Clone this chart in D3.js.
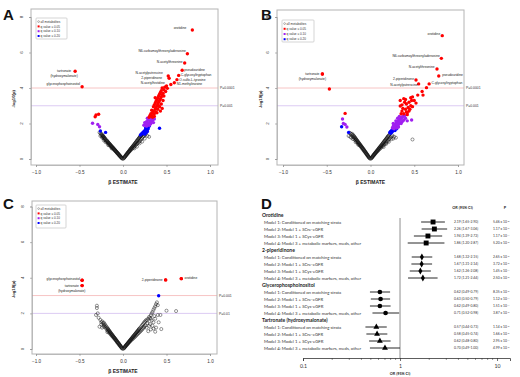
<!DOCTYPE html>
<html><head><meta charset="utf-8">
<script src="https://cdn.jsdelivr.net/npm/d3@7/dist/d3.min.js"></script>
<style>body{margin:0;background:#fff}svg{display:block}</style>
</head><body>
<svg id="chart" width="520" height="377"></svg>
<script>
// ---------------- DATA ----------------
const xTicks = [-1.0, -0.5, 0.0, 0.5, 1.0];
const yTicks = [0, 2, 4, 6, 8];
const legendLabels = ["all metabolites", "q value \u2264 0.05", "q value \u2264 0.10", "q value \u2264 0.20"];

// Panel A (beta, -log10 p)
const aOpen = [[-0.005,0.01],[-0.01,0.04],[-0.015,0.06],[-0.02,0.07],[-0.02,0.1],[-0.025,0.12],[-0.03,0.13],[-0.03,0.16],[-0.035,0.18],[-0.04,0.17],[-0.04,0.21],[-0.045,0.24],[-0.05,0.23],[-0.05,0.27],[-0.055,0.3],[-0.06,0.29],[-0.06,0.33],[-0.065,0.35],[-0.07,0.34],[-0.07,0.38],[-0.075,0.41],[-0.08,0.4],[-0.08,0.44],[-0.085,0.46],[-0.09,0.45],[-0.09,0.5],[-0.095,0.52],[-0.1,0.5],[-0.1,0.55],[-0.105,0.58],[-0.11,0.56],[-0.11,0.61],[-0.115,0.63],[-0.12,0.6],[-0.12,0.66],[-0.125,0.69],[-0.13,0.66],[-0.13,0.71],[-0.135,0.74],[-0.14,0.7],[-0.14,0.77],[-0.145,0.8],[-0.15,0.76],[-0.15,0.82],[-0.155,0.86],[-0.16,0.8],[-0.16,0.88],[-0.165,0.91],[-0.17,0.86],[-0.17,0.94],[-0.175,0.97],[-0.18,0.92],[-0.18,1.0],[-0.185,1.03],[-0.19,0.98],[-0.19,1.06],[-0.2,1.04],[-0.2,1.1],[-0.205,1.14],[-0.21,1.1],[-0.21,1.18],[-0.215,1.2],[-0.22,1.16],[-0.22,1.24],[-0.225,1.27],[-0.23,1.22],[-0.23,1.3],[-0.235,1.33],[-0.24,1.28],[-0.24,1.37],[-0.25,1.35],[-0.25,1.42],[-0.26,1.45],[-0.27,1.5],[-0.13,0.6],[-0.17,0.78],[-0.2,0.95],[-0.22,1.05],[-0.24,1.2],[-0.26,1.3],
 [0.005,0.02],[0.01,0.05],[0.015,0.08],[0.02,0.1],[0.02,0.13],[0.025,0.15],[0.03,0.17],[0.03,0.2],[0.035,0.23],[0.04,0.22],[0.04,0.26],[0.045,0.29],[0.05,0.28],[0.05,0.33],[0.055,0.36],[0.06,0.34],[0.06,0.39],[0.065,0.42],[0.07,0.4],[0.07,0.45],[0.075,0.48],[0.08,0.45],[0.08,0.52],[0.085,0.55],[0.09,0.5],[0.09,0.58],[0.095,0.61],[0.1,0.56],[0.1,0.64],[0.105,0.67],[0.11,0.6],[0.11,0.7],[0.115,0.73],[0.12,0.65],[0.12,0.76],[0.125,0.79],[0.13,0.7],[0.13,0.82],[0.135,0.86],[0.14,0.75],[0.14,0.89],[0.145,0.92],[0.15,0.8],[0.15,0.95],[0.155,0.99],[0.16,0.85],[0.16,1.02],[0.165,1.05],[0.17,0.9],[0.17,1.08],[0.175,1.12],[0.18,0.95],[0.18,1.15],[0.185,1.18],[0.19,1.0],[0.19,1.21],[0.195,1.25],[0.2,1.05],[0.2,1.28],[0.205,1.31],[0.21,1.12],[0.21,1.34],[0.215,1.38],[0.22,1.18],[0.22,1.41],[0.23,1.25],[0.24,1.3],[0.25,1.35],[0.26,1.4],[0.28,1.3],[0.19,0.88],[0.22,0.98],[0.25,1.15],[0.3,1.25],[0.16,0.7],[0.13,0.6]];
const aRed = [[0.3,2.35],[0.31,2.45],[0.32,2.55],[0.33,2.45],[0.34,2.6],[0.35,2.7],[0.33,2.75],[0.36,2.55],[0.37,2.8],[0.35,2.95],[0.38,2.9],[0.36,3.05],[0.39,3.0],[0.37,3.15],[0.4,3.1],[0.38,3.25],[0.41,3.2],[0.39,3.35],[0.42,3.3],[0.4,3.45],[0.43,3.4],[0.41,3.55],[0.44,3.5],[0.42,3.65],[0.45,3.6],[0.43,3.75],[0.46,3.7],[0.44,3.85],[0.47,3.9],[0.45,4.0],[0.48,4.05],[0.5,4.12],[0.46,3.3],[0.44,3.1],[0.42,2.95],[0.4,2.8],[0.38,2.65],[0.36,2.4],[0.34,2.35],[0.37,3.45],[0.47,3.55],[0.49,3.8],[0.43,2.7],[0.45,2.85],[0.39,2.6],[0.41,3.0],[0.51,3.98],
 [-0.32,2.38],[-0.31,2.48],[-0.28,2.52]];
const aPurple = [[0.24,1.9],[0.25,2.05],[0.26,1.95],[0.27,2.1],[0.28,2.0],[0.29,2.2],[0.3,2.05],[0.31,2.15],[0.32,2.0],[0.33,2.1],[0.3,1.9],[0.27,1.85],[0.34,2.2],[0.35,2.05],[0.28,2.3],[0.32,2.3],[0.36,2.25],[0.31,1.95],
 [-0.35,2.01],[-0.29,1.95],[-0.27,1.82]];
const aBlue = [[0.22,1.45],[0.23,1.5],[0.24,1.55],[0.25,1.6],[0.24,1.45],[0.26,1.65],[0.27,1.7],[0.25,1.5],[0.26,1.55],[0.27,1.6],[0.28,1.75],[0.28,1.65],[0.29,1.8],[0.27,1.5],[0.29,1.7],[0.26,1.75],[0.3,1.85],[0.25,1.4],[0.28,1.55],[0.21,1.4],[0.2,1.35],[0.42,1.73],
 [-0.26,1.58],[-0.2,1.5]];
const aLabeled = [["orotidine",0.797,7.27],["N6-carbamoylthreonyladenosine",0.74,5.93],["N-acetylthreonine",0.709,5.41],["pseudouridine",0.68,5.0],["C-glycosyltryptophan",0.64,4.71],["N-acetylputrescine",0.52,4.68],["2-piperidinone",0.53,4.55],["O-sulfo-L-tyrosine",0.62,4.47],["N-acetylhistidine",0.55,4.2],["N1-methylinosine",0.59,4.3],["tartronate",-0.55,4.94],["glycerophosphoinositol",-0.47,4.07]];
const aThresholds = [[4, "P=0.0001"], [3, "P=0.001"]];

// Panel B
const bOpen = [[-0.005,0.02],[-0.01,0.05],[-0.015,0.08],[-0.02,0.09],[-0.02,0.13],[-0.025,0.15],[-0.03,0.16],[-0.03,0.2],[-0.035,0.23],[-0.04,0.22],[-0.04,0.27],[-0.045,0.3],[-0.05,0.29],[-0.05,0.34],[-0.055,0.37],[-0.06,0.36],[-0.06,0.41],[-0.065,0.44],[-0.07,0.42],[-0.07,0.48],[-0.075,0.51],[-0.08,0.49],[-0.08,0.55],[-0.085,0.58],[-0.09,0.56],[-0.09,0.62],[-0.095,0.65],[-0.1,0.62],[-0.1,0.68],[-0.105,0.72],[-0.11,0.69],[-0.11,0.75],[-0.115,0.78],[-0.12,0.74],[-0.12,0.82],[-0.125,0.85],[-0.13,0.8],[-0.13,0.88],[-0.135,0.92],[-0.14,0.86],[-0.14,0.95],[-0.145,0.98],[-0.15,0.92],[-0.15,1.02],[-0.155,1.05],[-0.16,0.98],[-0.16,1.08],[-0.165,1.12],[-0.17,1.05],[-0.17,1.15],[-0.175,1.19],[-0.18,1.1],[-0.18,1.22],[-0.185,1.26],[-0.19,1.18],[-0.19,1.3],[-0.2,1.25],[-0.2,1.36],[-0.21,1.32],[-0.21,1.42],[-0.22,1.4],[-0.23,1.45],[-0.24,1.48],[-0.14,0.8],[-0.17,0.95],[-0.2,1.12],[-0.22,1.2],[-0.25,1.3],[-0.23,1.25],
 [0.005,0.02],[0.01,0.05],[0.015,0.07],[0.02,0.1],[0.02,0.12],[0.025,0.15],[0.03,0.16],[0.03,0.2],[0.035,0.22],[0.04,0.21],[0.04,0.26],[0.045,0.28],[0.05,0.27],[0.05,0.32],[0.055,0.35],[0.06,0.33],[0.06,0.38],[0.065,0.41],[0.07,0.39],[0.07,0.44],[0.075,0.47],[0.08,0.44],[0.08,0.5],[0.085,0.53],[0.09,0.49],[0.09,0.57],[0.095,0.6],[0.1,0.55],[0.1,0.63],[0.105,0.66],[0.11,0.59],[0.11,0.69],[0.115,0.72],[0.12,0.64],[0.12,0.75],[0.125,0.78],[0.13,0.69],[0.13,0.81],[0.135,0.85],[0.14,0.74],[0.14,0.88],[0.145,0.91],[0.15,0.79],[0.15,0.94],[0.155,0.98],[0.16,0.84],[0.16,1.01],[0.165,1.04],[0.17,0.89],[0.17,1.07],[0.175,1.1],[0.18,0.94],[0.18,1.14],[0.185,1.17],[0.19,0.99],[0.19,1.2],[0.195,1.24],[0.2,1.04],[0.2,1.27],[0.205,1.3],[0.21,1.1],[0.21,1.33],[0.22,1.16],[0.22,1.4],[0.23,1.22],[0.24,1.28],[0.25,1.33],[0.27,1.25],[0.29,1.2],[0.18,0.85],[0.21,0.97],[0.24,1.12],[0.26,1.15],[0.15,0.68],[0.48,1.1]];
const bRed = [[0.34,3.3],[0.38,3.4],[0.44,3.2],[0.48,3.5],[0.5,3.3],[0.34,2.99],[0.36,2.7],[0.4,2.8],[0.44,2.7],[0.38,2.55],[0.42,2.6],[0.46,3.0],[0.54,3.6],[0.6,3.6],[0.59,3.8],[0.64,4.02],[0.36,3.05],[0.41,3.1],[0.43,2.9],[0.39,3.2],[0.47,3.3],[0.45,2.8],[0.37,2.85],[0.35,2.55],[0.41,2.65],[0.52,3.15],[0.48,2.95],[0.4,3.35],[0.46,3.45],[0.42,2.5],
 [-0.55,4.79],[-0.47,3.94],[-0.29,2.57]];
const bPurple = [[0.25,1.75],[0.26,1.85],[0.27,1.9],[0.28,1.95],[0.29,2.0],[0.3,2.05],[0.31,2.1],[0.32,2.15],[0.33,2.2],[0.34,2.25],[0.35,2.3],[0.36,2.35],[0.37,2.4],[0.28,1.8],[0.3,1.9],[0.32,1.95],[0.34,2.05],[0.36,2.1],[0.38,2.2],[0.4,2.3],[0.29,2.15],[0.31,2.3],[0.33,2.4],[0.27,1.7],[0.35,2.0],[0.37,2.15],[0.39,2.45],[0.3,1.75],[0.32,1.8],[0.47,2.2],[0.42,2.15],[0.26,2.0],
 [-0.32,2.25],[-0.31,2.0],[-0.29,1.95],[-0.27,1.8]];
const bBlue = [[0.22,1.5],[0.23,1.55],[0.24,1.6],[0.25,1.65],[0.26,1.6],[0.24,1.5],[0.27,1.7],[0.28,1.75],[0.26,1.7],[0.25,1.55],[0.29,1.8],[0.3,1.7],[0.28,1.6],[0.31,1.85],[0.23,1.45],
 [-0.33,1.82],[-0.25,1.5]];
const bLabeled = [["orotidine",0.82,6.95],["N6-carbamoylthreonyladenosine",0.81,5.67],["N-acetylthreonine",0.76,5.07],["pseudouridine",0.78,4.68],["2-piperidinone",0.52,4.45],["N-acetylputrescine",0.55,4.23],["C-glycosyltryptophan",0.67,4.23],["tartronate",-0.55,4.79]];

// Panel C
const cOpen = [[-0.005,0.01],[-0.01,0.04],[-0.015,0.07],[-0.02,0.08],[-0.02,0.12],[-0.025,0.14],[-0.03,0.15],[-0.03,0.19],[-0.035,0.21],[-0.04,0.2],[-0.04,0.25],[-0.045,0.28],[-0.05,0.27],[-0.05,0.32],[-0.055,0.35],[-0.06,0.33],[-0.06,0.38],[-0.065,0.41],[-0.07,0.39],[-0.07,0.45],[-0.075,0.48],[-0.08,0.46],[-0.08,0.51],[-0.085,0.54],[-0.09,0.52],[-0.09,0.58],[-0.095,0.61],[-0.1,0.58],[-0.1,0.64],[-0.105,0.67],[-0.11,0.64],[-0.11,0.7],[-0.115,0.73],[-0.12,0.7],[-0.12,0.77],[-0.125,0.8],[-0.13,0.75],[-0.13,0.83],[-0.135,0.86],[-0.14,0.81],[-0.14,0.9],[-0.145,0.93],[-0.15,0.87],[-0.15,0.96],[-0.155,1.0],[-0.16,0.92],[-0.16,1.03],[-0.165,1.07],[-0.17,0.98],[-0.17,1.1],[-0.175,1.14],[-0.18,1.05],[-0.18,1.18],[-0.19,1.12],[-0.19,1.25],[-0.2,1.2],[-0.2,1.32],[-0.21,1.28],[-0.21,1.4],[-0.22,1.35],[-0.22,1.48],[-0.23,1.45],[-0.24,1.55],[-0.25,1.5],[-0.26,1.63],[-0.27,1.25],[-0.28,1.75],[-0.29,2.0],[-0.31,1.91],[-0.3,2.3],[-0.3,2.43],[-0.24,1.2],[-0.22,1.25],[-0.18,0.95],[-0.25,1.38],
 [0.005,0.02],[0.01,0.04],[0.015,0.07],[0.02,0.09],[0.02,0.12],[0.025,0.14],[0.03,0.15],[0.03,0.19],[0.035,0.21],[0.04,0.2],[0.04,0.24],[0.045,0.27],[0.05,0.26],[0.05,0.3],[0.055,0.33],[0.06,0.31],[0.06,0.36],[0.065,0.39],[0.07,0.37],[0.07,0.42],[0.075,0.45],[0.08,0.42],[0.08,0.48],[0.085,0.51],[0.09,0.47],[0.09,0.54],[0.095,0.57],[0.1,0.52],[0.1,0.6],[0.105,0.63],[0.11,0.56],[0.11,0.66],[0.115,0.69],[0.12,0.61],[0.12,0.72],[0.125,0.75],[0.13,0.66],[0.13,0.78],[0.135,0.81],[0.14,0.7],[0.14,0.84],[0.145,0.87],[0.15,0.75],[0.15,0.9],[0.155,0.93],[0.16,0.8],[0.16,0.96],[0.165,0.99],[0.17,0.85],[0.17,1.02],[0.175,1.05],[0.18,0.9],[0.18,1.08],[0.185,1.12],[0.19,0.95],[0.19,1.15],[0.2,1.0],[0.2,1.2],[0.21,1.05],[0.21,1.27],[0.22,1.1],[0.22,1.34],[0.23,1.16],[0.23,1.4],[0.24,1.22],[0.24,1.47],[0.25,1.28],[0.25,1.53],[0.26,1.33],[0.26,1.58],[0.27,1.2],[0.27,1.64],[0.28,1.6],[0.29,1.7],[0.3,1.8],[0.31,1.75],[0.32,1.9],[0.33,2.0],[0.34,2.08],[0.35,2.2],[0.36,2.3],[0.37,2.4],[0.39,2.62],[0.4,2.46],[0.38,2.52],[0.33,1.6],[0.35,1.5],[0.36,1.85],[0.31,1.4],[0.3,1.3],[0.34,1.3],[0.37,1.7],[0.4,1.91],[0.43,1.91],[0.5,2.15],[0.61,2.13],[0.44,1.12],[0.37,0.97],[0.32,1.1],[0.35,1.15],[0.41,1.5],[0.38,1.2],[0.29,1.0],[0.28,1.45],[0.32,1.7]];
const cRed = [[0.67,3.95],[0.49,3.88],[-0.47,3.86],[-0.47,3.56]];
const cBlue = [[0.41,2.99]];
const cLabeled = [["orotidine",0.67,3.95],["2-piperidinone",0.49,3.88],["glycerophosphoinositol",-0.47,3.86],["tartronate",-0.47,3.56]];
const cThresholds = [[3, "P=0.001"], [2, "P=0.01"]];

// Panel D (forest plot)
const forestMetabolites = ["Orotidine", "2-piperidinone", "Glycerophosphoinositol", "Tartronate (hydroxymalonate)"];
const forestModels = ["Model 1: Conditioned on matching strata", "Model 2: Model 1 + SCre-eGFR", "Model 3: Model 1 + SCys-eGFR", "Model 4: Model 3 + metabolic markers, meds, other"];
const orEst  = [[2.19,2.26,1.94,1.86],[1.68,1.67,1.62,1.72],[0.62,0.63,0.62,0.71],[0.57,0.58,0.62,0.70]];
const orLow  = [[1.65,1.67,1.39,1.20],[1.32,1.31,1.26,1.21],[0.49,0.50,0.49,0.52],[0.44,0.45,0.48,0.49]];
const orHigh = [[2.90,3.06,2.72,2.87],[2.15,2.14,2.08,2.44],[0.79,0.79,0.80,0.98],[0.73,0.74,0.80,1.00]];
const pMant  = [["5.46","1.17","1.17","5.20"],["2.65","3.72","1.45","2.50"],["8.35","1.12","1.51","3.87"],["1.14","1.66","2.95","4.99"]];
const pExp   = [[-8,-7,-4,-3],[-5,-5,-4,-3],[-5,-4,-4,-2],[-5,-5,-4,-2]];
const orMajorTicks = [0.1, 1, 10];
const orMinorTicks = [0.2,0.3,0.4,0.5,0.6,0.7,0.8,0.9,2,3,4,5,6,7,8,9];

// ---------------- DRAWING ----------------
const svg = d3.select("#chart");
const SANS = "'Liberation Sans', Arial, sans-serif";
const COL = {red:"#ff0000", purple:"#a020f0", blue:"#0000ff"};

// label placement (anchor, dx, dy) per panel
const labelPos = {
 A: {"orotidine":["end",-6,-0.5],"N6-carbamoylthreonyladenosine":["end",-1.5,-1.5],"N-acetylthreonine":["end",-2,0],
     "pseudouridine":["start",2,0.3],"C-glycosyltryptophan":["start",2,1],"N-acetylputrescine":["end",-5.5,-2],
     "2-piperidinone":["end",-7,0.7],"O-sulfo-L-tyrosine":["start",2.4,1.5],"N-acetylhistidine":["end",-6,0],
     "N1-methylinosine":["start",2.4,2.2],"glycerophosphoinositol":["end",-2,-1.3],"tartronate":["two",-11,1]},
 B: {"orotidine":["end",-2,-0.5],"N6-carbamoylthreonyladenosine":["end",-1.5,-1],"N-acetylthreonine":["end",-2.4,-1],
     "pseudouridine":["start",3.4,0.5],"2-piperidinone":["end",-2,0],"N-acetylputrescine":["end",-1,2.2],
     "C-glycosyltryptophan":["start",2.4,0],"tartronate":["two",-10,1.2]},
 C: {"orotidine":["start",3.3,0],"2-piperidinone":["end",-3,1],"glycerophosphoinositol":["end",-2,0.2],"tartronate":["two",-10.3,1.5]}
};

function volcano(p) {
  const g = svg.append("g");
  const x = d3.scaleLinear().domain([-1, 1]).range(p.xr);
  const y = d3.scaleLinear().domain([0, 8]).range(p.yr);
  const [bx0, by0, bx1, by1] = p.box;

  // threshold lines
  const thrCols = ["#f7c4c4", "#dccbf3"];
  p.thr.forEach((t, i) => {
    g.append("line").attr("x1", bx0).attr("x2", bx1).attr("y1", y(t[0])).attr("y2", y(t[0]))
      .attr("stroke", thrCols[i]).attr("stroke-width", 1);
    g.append("text").attr("x", bx1 + 2).attr("y", y(t[0]) + 1.2).text(t[1])
      .attr("font-family", SANS).attr("font-size", 3.4).attr("fill", "#333");
  });

  // box
  g.append("rect").attr("x", bx0).attr("y", by0).attr("width", bx1 - bx0).attr("height", by1 - by0)
    .attr("fill", "none").attr("stroke", "#b4b4b4").attr("stroke-width", 1);

  // x axis
  const xa = g.append("g").attr("transform", `translate(0,${by1})`)
    .call(d3.axisBottom(x).tickValues(xTicks).tickFormat(d3.format(".1f")).tickSize(2).tickPadding(4));
  xa.select(".domain").attr("stroke", "#999").attr("stroke-width", 0.5);
  xa.selectAll(".tick line").attr("stroke", "#777").attr("stroke-width", 0.5);
  xa.selectAll("text").attr("font-family", SANS).attr("font-size", 4.6).attr("fill", "#333");

  // y axis (rotated labels)
  const ya = g.append("g").attr("transform", `translate(${bx0},0)`)
    .call(d3.axisLeft(y).tickValues(yTicks).tickSize(2).tickFormat(""));
  ya.select(".domain").attr("stroke", "#999").attr("stroke-width", 0.5);
  ya.selectAll(".tick line").attr("stroke", "#777").attr("stroke-width", 0.5);
  yTicks.forEach(t => {
    g.append("text").attr("transform", `translate(${bx0 - 8},${y(t)}) rotate(-90)`)
      .attr("text-anchor", "middle").attr("font-family", SANS).attr("font-size", 4.4).attr("fill", "#333").text(t);
  });

  // titles
  g.append("text").attr("x", (x(-1) + x(1)) / 2).attr("y", by1 + 19).attr("text-anchor", "middle")
    .attr("font-family", SANS).attr("font-weight", "bold").attr("font-size", 5).attr("fill", "#222").text("\u03B2 ESTIMATE");
  g.append("text").attr("transform", `translate(${p.ytx},${(by0 + by1) / 2 + 12}) rotate(-90)`)
    .attr("text-anchor", "middle").attr("font-family", SANS).attr("font-weight", "bold").attr("font-size", 4.2)
    .attr("fill", "#222").text("-log10(p)");

  // points
  g.append("g").selectAll("circle").data(p.open).join("circle")
    .attr("cx", d => x(d[0])).attr("cy", d => y(d[1])).attr("r", 1.55)
    .attr("fill", "none").attr("stroke", "#111").attr("stroke-width", 0.45);
  [["blue", p.blue], ["purple", p.purple], ["red", p.red]].forEach(([c, arr]) => {
    g.append("g").selectAll("circle").data(arr || []).join("circle")
      .attr("cx", d => x(d[0])).attr("cy", d => y(d[1])).attr("r", 1.7).attr("fill", COL[c]);
  });
  g.append("g").selectAll("circle").data(p.labeled).join("circle")
    .attr("cx", d => x(d[1])).attr("cy", d => y(d[2])).attr("r", 1.7).attr("fill", COL.red);

  // labels
  p.labeled.forEach(d => {
    const pos = labelPos[p.key][d[0]];
    const px = x(d[1]), py = y(d[2]);
    if (pos[0] === "two") {
      g.append("text").attr("x", px + pos[1]).attr("y", py + pos[2]).attr("text-anchor", "middle")
        .attr("font-family", SANS).attr("font-size", 3.3).attr("fill", "#222").text(d[0]);
      g.append("text").attr("x", px + pos[1]).attr("y", py + pos[2] + 4.7).attr("text-anchor", "middle")
        .attr("font-family", SANS).attr("font-size", 3.3).attr("fill", "#222").text("(hydroxymalonate)");
    } else {
      g.append("text").attr("x", px + pos[1]).attr("y", py + pos[2]).attr("text-anchor", pos[0])
        .attr("font-family", SANS).attr("font-size", 3.3).attr("fill", "#222").text(d[0]);
    }
  });

  // legend
  const L = p.leg;
  g.append("rect").attr("x", L[0]).attr("y", L[1]).attr("width", L[2]).attr("height", L[3])
    .attr("fill", "#fff").attr("stroke", "#bbb").attr("stroke-width", 0.6).attr("rx", 0.8);
  const legCols = [null, COL.red, COL.purple, COL.blue];
  legendLabels.forEach((t, i) => {
    const ly = L[1] + 3.6 + i * L[4];
    if (i === 0) g.append("circle").attr("cx", L[0] + 2.6).attr("cy", ly).attr("r", 0.9)
      .attr("fill", "none").attr("stroke", "#333").attr("stroke-width", 0.35);
    else g.append("rect").attr("x", L[0] + 1.6).attr("y", ly - 1).attr("width", 2).attr("height", 2).attr("fill", legCols[i]);
    g.append("text").attr("x", L[0] + 4.6).attr("y", ly + 1.1).attr("font-family", SANS)
      .attr("font-size", 3.1).attr("fill", "#333").text(t);
  });
}

volcano({key:"A", xr:[36,210], yr:[159,17], box:[31,9,218,165], ytx:15, thr:aThresholds,
  open:aOpen, red:aRed, purple:aPurple, blue:aBlue, labeled:aLabeled, leg:[36,18,31,21,4.8]});
volcano({key:"B", xr:[283,458], yr:[159,17], box:[277,10,464,165], ytx:262, thr:aThresholds,
  open:bOpen, red:bRed, purple:bPurple, blue:bBlue, labeled:bLabeled, leg:[282,20,32,22,5.2]});
volcano({key:"C", xr:[36,210], yr:[349,206.5], box:[32,201,217,354], ytx:15, thr:cThresholds,
  open:cOpen, red:cRed, purple:[], blue:cBlue, labeled:cLabeled, leg:[36,205,30,23,4.8]});

// panel letters
[["A",3,20],["B",261,20],["C",3,209],["D",261,209]].forEach(d => {
  svg.append("text").attr("x", d[1]).attr("y", d[2]).text(d[0]).attr("font-family", SANS)
    .attr("font-weight", "bold").attr("font-size", 15).attr("fill", "#111");
});

// ---------- Panel D ----------
const DF = "Lato, 'Open Sans', sans-serif";
const xo = d3.scaleLog().domain([0.1, 13.6]).range([303, 510]);
const rowKeys = [];
forestMetabolites.forEach((m, i) => { rowKeys.push("g" + i); forestModels.forEach((_, j) => rowKeys.push("r" + i + "_" + j)); });
const ry = d3.scalePoint().domain(rowKeys).range([215, 348]);
const D = svg.append("g");

// reference line at OR = 1
D.append("line").attr("x1", xo(1)).attr("x2", xo(1)).attr("y1", 218).attr("y2", 358)
  .attr("stroke", "#9a9a9a").attr("stroke-width", 1.1);

// header
D.append("text").attr("x", 462.5).attr("y", 208.5).attr("text-anchor", "middle").attr("font-family", DF)
  .attr("font-weight", "bold").attr("font-size", 3.8).attr("fill", "#222").text("OR (95% CI)");
D.append("text").attr("x", 505).attr("y", 208.5).attr("text-anchor", "middle").attr("font-family", DF)
  .attr("font-weight", "bold").attr("font-size", 3.8).attr("fill", "#222").text("P");

const shapes = [d3.symbolSquare, d3.symbolDiamond, d3.symbolCircle, d3.symbolTriangle];
const shapeSize = [24, 14, 17, 15];
forestMetabolites.forEach((m, i) => {
  D.append("text").attr("x", 262).attr("y", ry("g" + i)).attr("dy", "0.35em").attr("font-family", DF)
    .attr("font-weight", "bold").attr("font-size", 5).attr("fill", "#222").text(m);
  forestModels.forEach((mod, j) => {
    const yy = ry("r" + i + "_" + j);
    D.append("text").attr("x", 264).attr("y", yy).attr("dy", "0.35em").attr("font-family", DF)
      .attr("font-size", 4.3).attr("fill", "#333").text(mod);
    D.append("line").attr("x1", xo(orLow[i][j])).attr("x2", xo(orHigh[i][j])).attr("y1", yy).attr("y2", yy)
      .attr("stroke", "#111").attr("stroke-width", 0.9);
    D.append("path").attr("d", d3.symbol().type(shapes[i]).size(shapeSize[i]))
      .attr("transform", `translate(${xo(orEst[i][j])},${yy})`).attr("fill", "#000");
    const f = d3.format(".2f");
    D.append("text").attr("x", 454).attr("y", yy).attr("dy", "0.35em").attr("font-family", DF)
      .attr("font-size", 3.4).attr("fill", "#333")
      .text(`${f(orEst[i][j])} (${f(orLow[i][j])}-${f(orHigh[i][j])})`);
    const pt = D.append("text").attr("x", 493).attr("y", yy).attr("dy", "0.35em").attr("font-family", DF)
      .attr("font-size", 3.4).attr("fill", "#333");
    pt.append("tspan").text(`${pMant[i][j]} x 10`);
    pt.append("tspan").attr("dy", "-0.5em").attr("font-size", 2.3).text(pExp[i][j]);
  });
});

// OR axis
const axD = D.append("g").attr("transform", "translate(0,358)")
  .call(d3.axisBottom(xo).tickValues(orMajorTicks).tickFormat(d => d3.format("~g")(d)).tickSize(3).tickPadding(3));
axD.select(".domain").attr("stroke", "#333").attr("stroke-width", 0.8);
axD.selectAll("text").attr("font-family", DF).attr("font-size", 5.2).attr("fill", "#333");
axD.selectAll(".tick line").attr("stroke", "#333").attr("stroke-width", 0.7);
D.append("g").selectAll("line").data(orMinorTicks).join("line")
  .attr("x1", d => xo(d)).attr("x2", d => xo(d)).attr("y1", 358).attr("y2", 360)
  .attr("stroke", "#333").attr("stroke-width", 0.5);
D.append("text").attr("x", 400).attr("y", 374.5).attr("text-anchor", "middle").attr("font-family", DF)
  .attr("font-weight", "bold").attr("font-size", 3.8).attr("fill", "#222").text("OR (95% CI)");
</script>
</body></html>
